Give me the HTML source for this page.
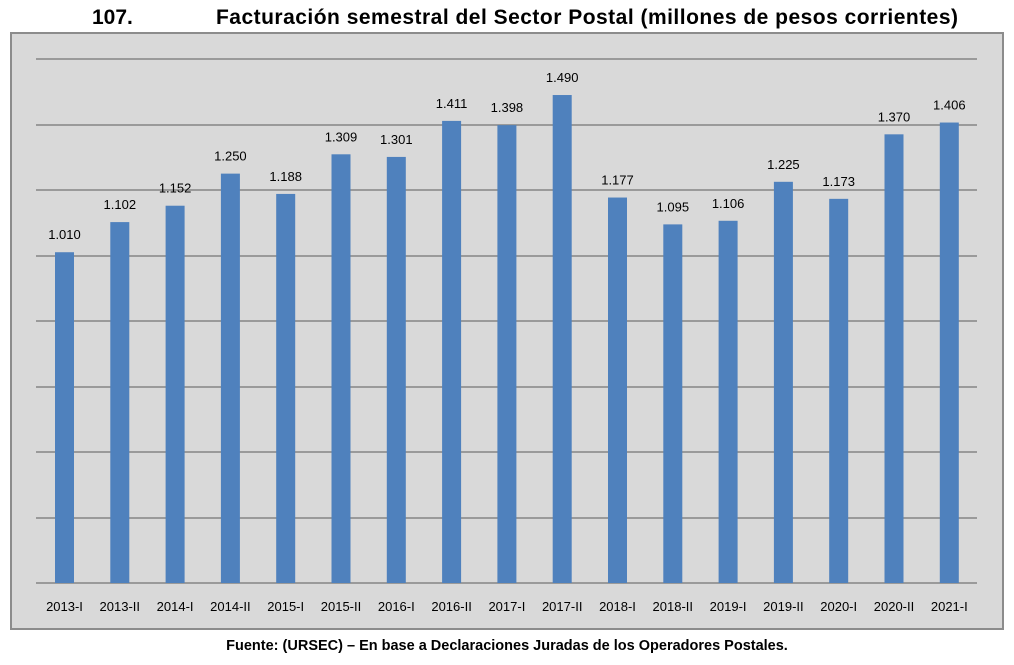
<!DOCTYPE html>
<html><head><meta charset="utf-8"><style>
body{margin:0;background:#fff;width:1014px;height:660px;overflow:hidden;font-family:"Liberation Sans",sans-serif}
</style></head><body>
<svg width="1014" height="660" xmlns="http://www.w3.org/2000/svg" font-family="Liberation Sans, sans-serif">
<text x="92" y="24" font-size="21" font-weight="bold" fill="#000">107.</text>
<text x="216" y="24" font-size="21" font-weight="bold" fill="#000" textLength="742">Facturación semestral del Sector Postal (millones de pesos corrientes)</text>
<rect x="11" y="33" width="992" height="596" fill="#d9d9d9" stroke="#8c8c8c" stroke-width="2"/>
<g stroke="#858585" stroke-width="1.5">
<line x1="36" x2="977" y1="59" y2="59"/><line x1="36" x2="977" y1="125" y2="125"/>
<line x1="36" x2="977" y1="190" y2="190"/><line x1="36" x2="977" y1="256" y2="256"/>
<line x1="36" x2="977" y1="321" y2="321"/><line x1="36" x2="977" y1="387" y2="387"/>
<line x1="36" x2="977" y1="452" y2="452"/><line x1="36" x2="977" y1="518" y2="518"/>
<line x1="36" x2="977" y1="583" y2="583"/>
</g>
<g id="bars"></g>
</svg>
<script>
var v=[1010,1102,1152,1250,1188,1309,1301,1411,1398,1490,1177,1095,1106,1225,1173,1370,1406];
var l=["2013-I","2013-II","2014-I","2014-II","2015-I","2015-II","2016-I","2016-II","2017-I","2017-II","2018-I","2018-II","2019-I","2019-II","2020-I","2020-II","2021-I"];
var g=document.getElementById('bars'),s='';
for(var i=0;i<17;i++){var c=64.5+i*55.3,h=v[i]*0.3275,y=583-h;
s+='<rect x="'+(c-9.5)+'" y="'+y+'" width="19" height="'+h+'" fill="#4f81bd"/>';
s+='<text x="'+c+'" y="'+(y-13)+'" font-size="13" text-anchor="middle" fill="#000">'+(v[i]/1000).toFixed(3)+'</text>';
s+='<text x="'+c+'" y="611" font-size="13" text-anchor="middle" fill="#000">'+l[i]+'</text>';}
s+='<text x="507" y="650" font-size="14.5" font-weight="bold" text-anchor="middle" fill="#000">Fuente: (URSEC) – En base a Declaraciones Juradas de los Operadores Postales.</text>';
g.innerHTML=s;
</script>
</body></html>
